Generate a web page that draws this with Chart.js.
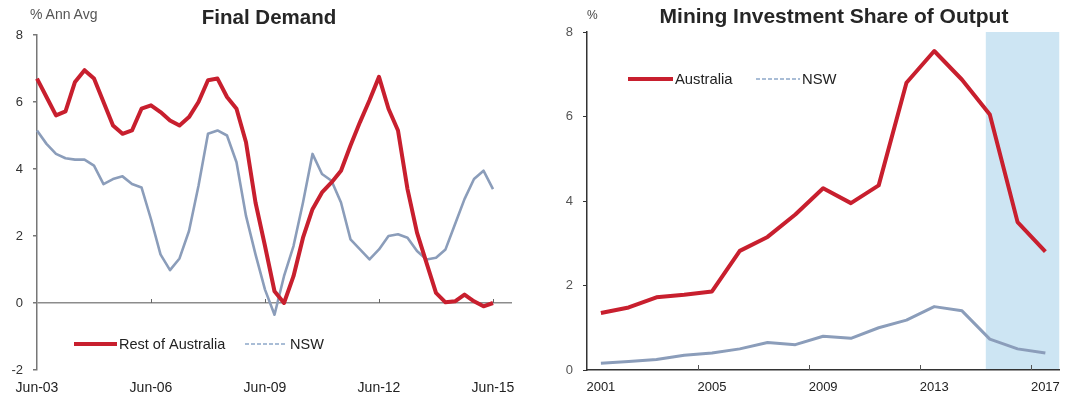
<!DOCTYPE html>
<html><head><meta charset="utf-8">
<script src="https://cdn.jsdelivr.net/npm/chart.js@4.4.1/dist/chart.umd.min.js"></script>
<style>
html,body{margin:0;padding:0;background:#fff;}
#wrap{position:relative;width:1070px;height:399px;overflow:hidden;font-family:'Liberation Sans',Arial,sans-serif;background:#fff;}
canvas{position:absolute;top:0;}
.t{position:absolute;white-space:nowrap;line-height:1;}
</style></head><body>
<div id="wrap">
<canvas id="cL" width="535" height="399" style="left:0"></canvas>
<canvas id="cR" width="535" height="399" style="left:535px"></canvas>
<div class="t" style="left:269px;top:7px;transform:translateX(-50%);font-weight:bold;font-size:20.5px;color:#262626">Final Demand</div>
<div class="t" style="left:30px;top:7px;font-size:14px;color:#555">% Ann Avg</div>
<div class="t" style="left:834px;top:5px;transform:translateX(-50%);font-weight:bold;font-size:21px;color:#262626">Mining Investment Share of Output</div>
<div class="t" style="left:587px;top:9px;font-size:12px;color:#444">%</div>
</div>
<script>
// ---------- Left chart: Final Demand (% Ann Avg), quarterly ----------
const quarterLabels = ['Jun-03','Sep-03','Dec-03','Mar-04','Jun-04','Sep-04','Dec-04','Mar-05','Jun-05','Sep-05','Dec-05','Mar-06','Jun-06','Sep-06','Dec-06','Mar-07','Jun-07','Sep-07','Dec-07','Mar-08','Jun-08','Sep-08','Dec-08','Mar-09','Jun-09','Sep-09','Dec-09','Mar-10','Jun-10','Sep-10','Dec-10','Mar-11','Jun-11','Sep-11','Dec-11','Mar-12','Jun-12','Sep-12','Dec-12','Mar-13','Jun-13','Sep-13','Dec-13','Mar-14','Jun-14','Sep-14','Dec-14','Mar-15','Jun-15','Sep-15','Dec-15'];
const shownQuarterTicks = ['Jun-03','Jun-06','Jun-09','Jun-12','Jun-15'];
const restOfAustralia = [6.7,6.15,5.6,5.72,6.6,6.95,6.7,6.0,5.3,5.05,5.15,5.8,5.9,5.7,5.45,5.3,5.55,6.0,6.65,6.7,6.15,5.8,4.8,3.0,1.7,0.35,0.0,0.8,1.95,2.8,3.3,3.6,3.95,4.7,5.4,6.05,6.75,5.8,5.15,3.4,2.1,1.2,0.3,0.02,0.05,0.25,0.05,-0.1,0.0];
const nswDemand = [5.15,4.75,4.45,4.32,4.28,4.28,4.1,3.55,3.7,3.78,3.55,3.45,2.5,1.45,0.98,1.33,2.15,3.5,5.05,5.15,5.0,4.2,2.6,1.45,0.4,-0.35,0.8,1.7,3.0,4.45,3.85,3.65,3.0,1.9,1.6,1.3,1.6,2.0,2.05,1.95,1.55,1.3,1.35,1.6,2.35,3.1,3.7,3.95,3.4];
const leftTicks = [-2,0,2,4,6,8];

// ---------- Right chart: Mining Investment Share of Output (%) ----------
const years = ['2001','2002','2003','2004','2005','2006','2007','2008','2009','2010','2011','2012','2013','2014','2015','2016','2017'];
const shownYearTicks = ['2001','2005','2009','2013','2017'];
const australiaShare = [1.35,1.48,1.72,1.78,1.86,2.82,3.15,3.68,4.3,3.95,4.37,6.8,7.55,6.87,6.05,3.5,2.8];
const nswShare = [0.16,0.2,0.25,0.35,0.4,0.5,0.65,0.6,0.8,0.75,1.0,1.18,1.5,1.4,0.73,0.5,0.4];
const shadeFromYear = '2015';
const rightTicks = [0,2,4,6,8];

const leftNames = ['Rest of Australia','NSW'];
const rightNames = ['Australia','NSW'];

const FONT = "'Liberation Sans', Arial, sans-serif";
const RED = '#c81f2e';
const BLUE = '#8b9dba';
const LEGEND_BLUE = '#a9bdd6';

const fixedLegend = {
  id:'fixedLegend',
  afterDraw(chart, args, opts){
    const ctx = chart.ctx;
    ctx.save();
    opts.items.forEach((it, i) => {
      const ds = chart.data.datasets[i];
      ctx.beginPath();
      ctx.strokeStyle = it.color || ds.borderColor;
      ctx.lineWidth = it.width;
      ctx.setLineDash(it.dash || []);
      ctx.lineCap = 'butt';
      ctx.moveTo(it.x1, it.y); ctx.lineTo(it.x2, it.y); ctx.stroke();
      ctx.setLineDash([]);
      ctx.fillStyle = '#222';
      ctx.font = opts.font;
      ctx.textBaseline = 'middle';
      ctx.textAlign = 'left';
      ctx.fillText(ds.label, it.tx, it.y + 1);
    });
    ctx.restore();
  }
};

const axisMarks = {
  id:'axisMarks',
  afterDraw(chart, args, opts){
    const ctx = chart.ctx, xs = chart.scales.x, ys = chart.scales.y;
    const labels = chart.data.labels;
    ctx.save();
    ctx.strokeStyle = opts.color; ctx.lineWidth = 1;
    opts.labels.forEach(l => {
      const i = labels.indexOf(l);
      let px;
      if (opts.between && i > 0) px = (xs.getPixelForValue(i-1) + xs.getPixelForValue(i)) / 2;
      else px = xs.getPixelForValue(i);
      const y0 = ys.getPixelForValue(opts.atValue);
      ctx.beginPath();
      ctx.moveTo(Math.round(px)+0.5, y0);
      ctx.lineTo(Math.round(px)+0.5, y0 + opts.len);
      ctx.stroke();
    });
    ctx.restore();
  }
};

const shade = {
  id:'shade',
  beforeDraw(chart, args, opts){
    if (!opts || !opts.from) return;
    const xs = chart.scales.x, a = chart.chartArea, ctx = chart.ctx;
    const x0 = xs.getPixelForValue(chart.data.labels.indexOf(opts.from)) - 4;
    ctx.save();
    ctx.fillStyle = opts.color;
    ctx.fillRect(x0, a.top, a.right - x0, a.bottom - a.top);
    ctx.restore();
  }
};

new Chart(document.getElementById('cL'), {
  type:'line',
  data:{ labels: quarterLabels, datasets:[
    {label:leftNames[0], data:restOfAustralia, borderColor:RED, borderWidth:4, pointRadius:0, tension:0, borderJoinStyle:'round'},
    {label:leftNames[1], data:nswDemand, borderColor:BLUE, borderWidth:2.6, pointRadius:0, tension:0, borderJoinStyle:'round'}
  ]},
  plugins:[fixedLegend, axisMarks],
  options:{
    responsive:false, animation:false, events:[],
    layout:{padding:{top:35,right:23,left:0,bottom:0}},
    plugins:{
      legend:{display:false}, tooltip:{enabled:false}, title:{display:false},
      fixedLegend:{font:"14.5px "+FONT, items:[
        {x1:74,x2:117,y:344,width:4,tx:119},
        {x1:245,x2:287,y:344,width:2,tx:290,color:LEGEND_BLUE,dash:[4,2]}
      ]},
      axisMarks:{labels:shownQuarterTicks.slice(1), atValue:0, len:-4, color:'#666', between:false}
    },
    scales:{
      x:{ offset:false, grid:{display:false, drawTicks:false}, border:{display:false},
          ticks:{autoSkip:false, maxRotation:0, minRotation:0, padding:10, color:'#222', font:{family:FONT,size:14},
            callback:function(v,i){ const l = quarterLabels[i]; return shownQuarterTicks.includes(l) ? l : ''; } },
          afterFit(s){ s.height = 29; } },
      y:{ min:leftTicks[0], max:leftTicks[leftTicks.length-1],
          afterBuildTicks(s){ s.ticks = leftTicks.map(v => ({value:v})); },
          ticks:{padding:10, color:'#333', font:{family:FONT,size:13}},
          grid:{ drawTicks:true, tickLength:4, tickColor:'#777', lineWidth:1.5,
                 color:(c) => (c.tick && c.tick.value === 0) ? '#8c8c8c' : 'rgba(0,0,0,0)' },
          border:{display:true, color:'#777', width:1.5},
          afterFit(s){ s.width = 37; } }
    }
  }
});

new Chart(document.getElementById('cR'), {
  type:'line',
  data:{ labels: years, datasets:[
    {label:rightNames[0], data:australiaShare, borderColor:RED, borderWidth:4, pointRadius:0, tension:0, borderJoinStyle:'round'},
    {label:rightNames[1], data:nswShare, borderColor:BLUE, borderWidth:3, pointRadius:0, tension:0, borderJoinStyle:'round'}
  ]},
  plugins:[shade, fixedLegend, axisMarks],
  options:{
    responsive:false, animation:false, events:[],
    layout:{padding:{top:32,right:6,left:0,bottom:0}},
    plugins:{
      legend:{display:false}, tooltip:{enabled:false}, title:{display:false},
      shade:{from:shadeFromYear, color:'#cde5f3'},
      fixedLegend:{font:"14.8px "+FONT, items:[
        {x1:93,x2:138,y:79,width:4,tx:140},
        {x1:221,x2:265,y:79,width:2,tx:267,color:LEGEND_BLUE,dash:[4,2]}
      ]},
      axisMarks:{labels:shownYearTicks.slice(1), atValue:0, len:-5, color:'#555', between:true}
    },
    scales:{
      x:{ offset:true, grid:{display:false, drawTicks:false}, border:{display:true, color:'#333', width:1.5},
          ticks:{autoSkip:false, maxRotation:0, minRotation:0, padding:10, color:'#222', font:{family:FONT,size:13},
            callback:function(v,i){ const l = years[i]; return shownYearTicks.includes(l) ? l : ''; } },
          afterFit(s){ s.height = 29; } },
      y:{ min:rightTicks[0], max:rightTicks[rightTicks.length-1],
          afterBuildTicks(s){ s.ticks = rightTicks.map(v => ({value:v})); },
          ticks:{padding:10, color:'#555', font:{family:FONT,size:13}},
          grid:{ drawOnChartArea:false, drawTicks:true, tickLength:4, tickColor:'#333' },
          border:{display:true, color:'#333', width:1.5},
          afterFit(s){ s.width = 52; } }
    }
  }
});
</script>
</body></html>
